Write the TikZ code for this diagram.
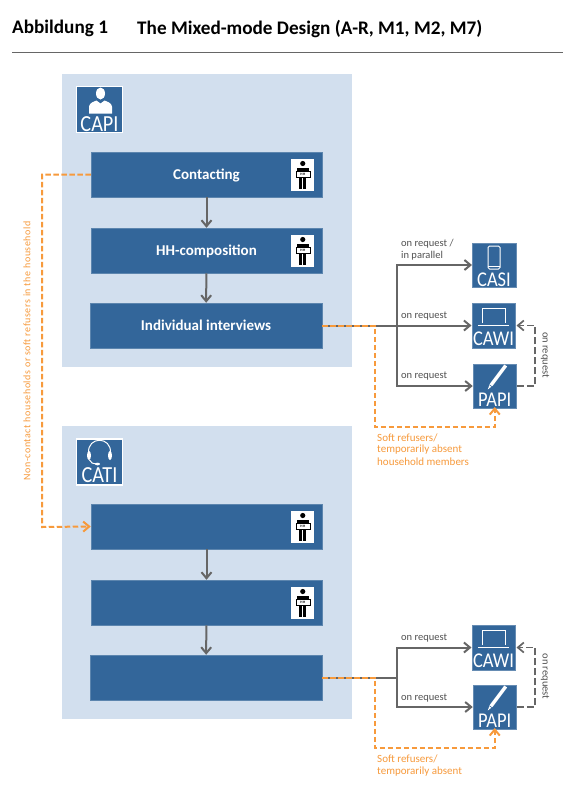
\documentclass[tikz,border=0pt]{standalone}
\usepackage{fontspec}
\setmainfont{Carlito}
\newfontfamily\widefont[LetterSpace=5.5]{Carlito}
\newfontfamily\modefont[FakeStretch=0.88]{Carlito}
\usepackage{xcolor}
\usetikzlibrary{arrows.meta}
\definecolor{panelblue}{HTML}{D2DFEE}
\definecolor{boxblue}{HTML}{33669A}
\definecolor{softorange}{HTML}{F79A3C}
\definecolor{flowgray}{HTML}{666666}
\tikzset{
panel/.style={fill=panelblue,draw=none,minimum width=290pt,minimum height=293pt,inner sep=0pt},
stagebox/.style={fill=boxblue,draw=boxblue!80!white,line width=0.5pt,minimum width=231pt,minimum height=45pt,inner sep=0pt,text=white,text height=10pt,text depth=1pt,font=\bfseries\fontsize{15}{17}\selectfont},
modebox/.style={fill=boxblue,draw=boxblue!75!white,line width=0.5pt,minimum width=43.5pt,minimum height=44.5pt,inner sep=0pt},
headtext/.style={text=white,inner sep=0pt,font=\modefont\fontsize{23}{25}\selectfont},
modetext/.style={text=white,inner sep=0pt,font=\modefont\fontsize{21}{23}\selectfont},
flowlabel/.style={text=flowgray!80!black,anchor=west,inner sep=0pt,font=\fontsize{10.5}{12}\selectfont},
softlabel/.style={text=softorange,anchor=west,inner sep=0pt,font=\fontsize{11}{12}\selectfont},
flow/.style={draw=flowgray,line width=2pt},
softflow/.style={draw=softorange,line width=2pt,dash pattern=on 5.5pt off 2.5pt},
backflow/.style={draw=flowgray,line width=1.7pt,dash pattern=on 7pt off 3pt},
>={Straight Barb[length=6pt,width=10pt]},
hhperson/.pic={
\fill[white] (-11.5,-16) rectangle (11.5,16);
\fill[black] (0,-11) circle (2.6);
\fill[black] (-6,-1) -- (-6,-7) -- (6,-7) -- (6,-1) -- cycle;
\fill[black] (-3.5,0) rectangle (-0.4,14);
\fill[black] (0.4,0) rectangle (3.5,14);
\fill[white,draw=black,line width=0.5pt] (-7,-3.5) rectangle (7,3);
\node[inner sep=0pt,font=\bfseries\fontsize{3.5}{4}\selectfont] at (0,0) {H\,H};
},
capiicon/.pic={
\fill[white] (1,-16) ellipse (4.5 and 6);
\fill[white] (-10.5,4) -- (-10.5,-3) .. controls (-10,-7) and (-5,-8) .. (-3,-9) -- (1,-6) -- (5,-9) .. controls (7,-8) and (12,-7) .. (12.5,-3) -- (12.5,4) -- cycle;
},
catiicon/.pic={
\draw[white,line width=1pt] (-11,-9) .. controls (-12,-26) and (12,-26) .. (11,-9);
\fill[white] (-10.5,-6.5) ellipse (2 and 4.5);
\fill[white] (10.5,-6.5) ellipse (2 and 4.5);
\draw[white,line width=1pt] (-10,-2) .. controls (-9,1) and (-6,2) .. (-3,2);
\fill[white] (-2,2) ellipse (2.5 and 1.3);
},
casiicon/.pic={
\draw[white,line width=1pt,rounded corners=1.5pt] (-6,-19) rectangle (6,4);
\draw[white,line width=0.5pt] (-6,1) -- (6,1);
},
cawiicon/.pic={
\draw[white,line width=1pt] (-11.5,-2.5) -- (-11.5,-17.5) -- (12,-17.5) -- (12,-2.5);
\draw[white,line width=1.4pt] (-15.5,0) -- (15.5,0);
},
papiicon/.pic={
\fill[white] (-7,3.5) -- (-4.8,-2.3) -- (9.6,-21.5) -- (12.4,-19.5) -- (-2,-0.3) -- cycle;
\draw[boxblue,line width=0.5pt] (-5,-1) -- (-1.2,1.8);
},
}
\begin{document}
\begin{tikzpicture}[x=1pt,y=-1pt]
\useasboundingbox (0,0) rectangle (577,785);
\fill[white] (0,0) rectangle (577,785);
% heading
\node[anchor=west,inner sep=0pt,font=\bfseries\fontsize{19.2}{21}\selectfont] (fignumber) at (12,28.5) {Abbildung 1};
\node[anchor=west,inner sep=0pt,font=\bfseries\fontsize{19.2}{21}\selectfont] (figtitle) at (137,28.5) {The Mixed-mode Design (A-R, M1, M2, M7)};
\draw[flowgray,line width=1pt] (12,52) -- (563,52);
% the two panels
\node[panel] (panelcapi) at (207,220.5) {};
\node[panel] (panelcati) at (207,572.5) {};
\node[modebox,draw=white,line width=1.2pt,minimum width=45.5pt,minimum height=46pt] (capi) at (99.5,109.5) {};
\pic at (capi) {capiicon};
\node[headtext] at (99.5,124) {CAPI};
\node[modebox,draw=white,line width=1.2pt,minimum width=45.5pt,minimum height=46pt] (cati) at (99.5,462) {};
\pic at (cati) {catiicon};
\node[headtext] at (99.5,475.5) {CATI};
% stages
\node[stagebox] (contacta) at (206.5,174.5) {Contacting};
\node[stagebox] (compoa) at (206.5,250.5) {HH-composition};
\node[stagebox,minimum width=232pt] (interviewa) at (206,325.5) {Individual interviews};
\node[stagebox] (contactb) at (206.5,526.5) {};
\node[stagebox] (compob) at (206.5,602.5) {};
\node[stagebox,minimum width=232pt] (interviewb) at (206,677.5) {};
\foreach \p in {contacta,compoa,contactb,compob}{
\pic at ([xshift=-19.5pt]\p.east) {hhperson};
}
\draw[flow,->] (contacta) -- (compoa);
\draw[flow,->] (compoa) -- (interviewa);
\draw[flow,->] (contactb) -- (compob);
\draw[flow,->] (compob) -- (interviewb);
% survey modes on the right
\node[modebox] (casia) at (494,265) {};
\node[modebox] (cawia) at (493.5,325.5) {};
\node[modebox] (papia) at (494.75,386) {};
\node[modebox] (cawib) at (493.5,647.5) {};
\node[modebox] (papib) at (494.75,707) {};
\pic at (casia) {casiicon};
\node[modetext] at (494,279.5) {CASI};
\foreach \m/\c in {cawia/338.5,cawib/660.5}{
\pic at (\m) {cawiicon};
\node[modetext] at (493.5,\c) {CAWI};
}
\foreach \m/\c in {papia/399.5,papib/720.5}{
\pic at (\m) {papiicon};
\node[modetext] at (494.75,\c) {PAPI};
}
% connectors
\coordinate (splita) at (397,325.5);
\coordinate (splitb) at (397,677.5);
\draw[flow] (interviewa.east) -- (splita);
\draw[flow,->] (splita) |- (casia.west);
\draw[flow,->] (splita) -- (cawia.west);
\draw[flow,->] (splita) |- (papia.west);
\draw[flow] (interviewb.east) -- (splitb);
\draw[flow,->] (splitb) |- (cawib.west);
\draw[flow,->] (splitb) |- (papib.west);
\coordinate (softa) at (375,427);
\coordinate (softb) at (375,748);
\draw[softflow,->] (interviewa.east) -| (softa) -| ([yshift=1.5pt]papia.south);
\draw[softflow,->] (interviewb.east) -| (softb) -| ([yshift=1.5pt]papib.south);
\coordinate (backa) at (535,355);
\coordinate (backb) at (535,677);
\draw[backflow,->] (papia.east) -| (backa) |- ([xshift=1pt]cawia.east);
\draw[backflow,->] (papib.east) -| (backb) |- ([xshift=1pt]cawib.east);
\coordinate (nonconb) at (42,527);
\draw[softflow,->] (contacta.west) -| (nonconb) -- (contactb.west);
% labels
\node[flowlabel] at (401,243.5) {on request /};
\node[flowlabel] at (401,256) {in parallel};
\node[flowlabel] at (401,316) {on request};
\node[flowlabel] at (401,376) {on request};
\node[flowlabel] at (401,637.8) {on request};
\node[flowlabel] at (401,697.8) {on request};
\node[softlabel] at (377,437.5) {Soft refusers/};
\node[softlabel] at (377,449.5) {temporarily absent};
\node[softlabel] at (377,461.5) {household members};
\node[softlabel] at (377,759.2) {Soft refusers/};
\node[softlabel] at (377,771.5) {temporarily absent};
\node[flowlabel,anchor=center,rotate=-90] at (545,355) {on request};
\node[flowlabel,anchor=center,rotate=-90] at (545,676.5) {on request};
\node[softlabel,anchor=center,rotate=90,font=\widefont\fontsize{10}{12}\selectfont] at (27,351) {Non-contact households or soft refusers in the household};
\end{tikzpicture}
\end{document}
